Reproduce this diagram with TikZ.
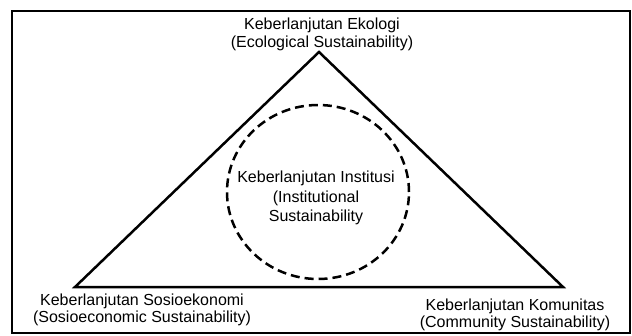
\documentclass[tikz,border=0pt]{standalone}
\usepackage{fontspec}
\setmainfont{Liberation Sans}
\usetikzlibrary{shapes.geometric}
\begin{document}
\begin{tikzpicture}[x=1pt,y=-1pt,
  lbl/.style={align=center,font=\fontsize{16}{18}\selectfont,inner sep=0pt},
  lblb/.style={align=center,font=\fontsize{16}{16.5}\selectfont,inner sep=0pt}]
\useasboundingbox (0,0) rectangle (632,335);
\fill[white] (0,0) rectangle (632,335);
\draw[line width=2pt] (12,11) rectangle (630,333);
\coordinate (top) at (319,52);
\coordinate (bl) at (75,287);
\coordinate (br) at (563,287);
\draw[line width=2.5pt,line join=miter] (top) -- (br) -- (bl) -- cycle;
\node[draw,ellipse,line width=2.5pt,dash pattern=on 9pt off 5pt,minimum width=182pt,minimum height=174pt] (c) at (318,192) {};
\node[lbl] (eko) at (322,34) {Keberlanjutan Ekologi\\(Ecological Sustainability)};
\node[lbl,font=\fontsize{16}{19.5}\selectfont] (ins) at (316,198) {Keberlanjutan Institusi\\(Institutional\\Sustainability};
\node[lblb] (sos) at (142,310) {Keberlanjutan Sosioekonomi\\(Sosioeconomic Sustainability)};
\node[lblb] (kom) at (515,315) {Keberlanjutan Komunitas\\(Community Sustainability)};
\end{tikzpicture}
\end{document}
